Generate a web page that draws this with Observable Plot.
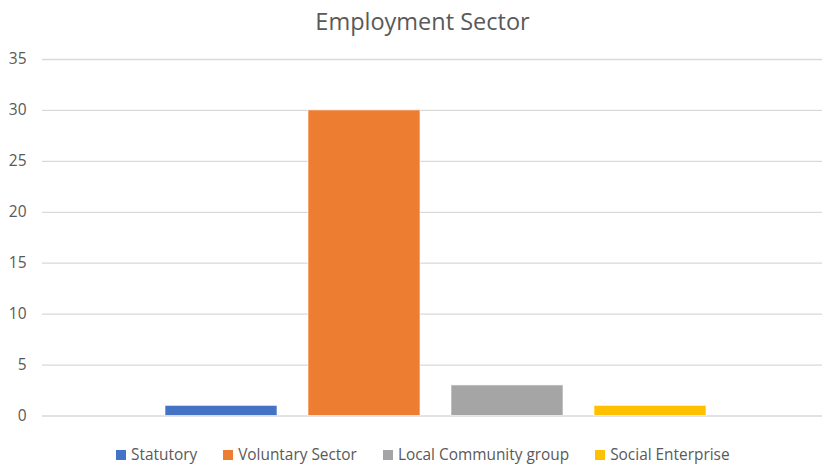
<!DOCTYPE html>
<html>
<head>
<meta charset="utf-8">
<script src="https://cdn.jsdelivr.net/npm/d3@7"></script>
<script src="https://cdn.jsdelivr.net/npm/@observablehq/plot@0.6"></script>
<style>
  html, body { margin: 0; padding: 0; background: #fff; }
  body { position: relative; width: 822px; height: 466px; overflow: hidden; font-family: "Open Sans", "Noto Sans", sans-serif; }
  #title { height: 45px; line-height: 42px; font-size: 23.5px; color: #595959; text-align: center; width: 845px; }
  #chart svg { display: block; }
  #legend { position: absolute; left: 116px; top: 443px; display: flex; align-items: center; height: 24px; font-size: 15.4px; line-height: 24px; color: #595959; gap: 26px; }
  .item { display: flex; align-items: center; white-space: nowrap; }
  .sw { width: 10px; height: 10px; margin-right: 5px; }
</style>
</head>
<body>
<div id="title">Employment Sector</div>
<div id="chart"></div>
<div id="legend"></div>
<script>
const categories = ["Statutory", "Voluntary Sector", "Local Community group", "Social Enterprise"];
const values = [1, 30, 3, 1];
const yTicks = [0, 5, 10, 15, 20, 25, 30, 35];
const palette = ["#4472C4", "#ED7D31", "#A5A5A5", "#FFC000"];

const data = categories.map((c, i) => ({category: c, value: values[i]}));

const chart = Plot.plot({
  width: 822,
  height: 385,
  marginTop: 14,
  marginBottom: 14.5,
  marginLeft: 42,
  marginRight: 0,
  style: {fontFamily: "'Open Sans', 'Noto Sans', sans-serif", fontSize: "15px", color: "#595959", background: "#fff"},
  x: {type: "band", domain: categories, range: [165, 707], paddingInner: 0.216, paddingOuter: 0, axis: null},
  y: {domain: [0, 35], ticks: yTicks, tickSize: 0, tickPadding: 16, label: null},
  color: {domain: categories, range: palette},
  marks: [
    Plot.ruleY(yTicks, {stroke: "#d9d9d9", strokeWidth: 1.3}),
    Plot.barY(data, {x: "category", y: "value", fill: "category", stroke: "#fff", strokeWidth: 0.6}),
    Plot.axisY({ticks: yTicks, tickSize: 0, tickPadding: 16, fill: "#595959", fontSize: 15.5})
  ]
});
document.getElementById("chart").appendChild(chart);

const legend = document.getElementById("legend");
categories.forEach((c, i) => {
  const item = document.createElement("div");
  item.className = "item";
  const sw = document.createElement("span");
  sw.className = "sw";
  sw.style.background = palette[i];
  const t = document.createElement("span");
  t.textContent = c;
  item.appendChild(sw);
  item.appendChild(t);
  legend.appendChild(item);
});
</script>
</body>
</html>
